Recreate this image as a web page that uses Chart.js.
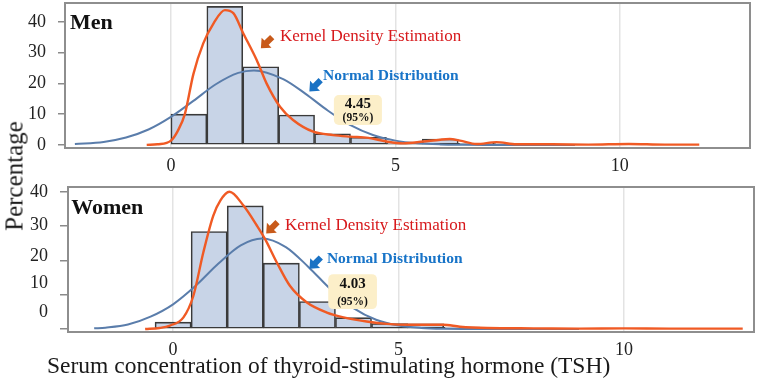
<!DOCTYPE html>
<html>
<head>
<meta charset="utf-8">
<script src="https://cdn.jsdelivr.net/npm/chart.js@4.4.1/dist/chart.umd.min.js"></script>
<style>
  body { margin: 0; background: #fff; }
  #wrap { position: relative; width: 757px; height: 380px; font-family: "Liberation Serif", serif; }
  canvas { position: absolute; left: 0; }
  #menCanvas { top: 0; }
  #womenCanvas { top: 180px; }
  .lbl { position: absolute; color: #1a1a1a; line-height: 1; white-space: nowrap; }
  #ylab { left: 14px; top: 176px; font-size: 25px; transform: translate(-50%, -50%) rotate(-90deg); }
  #xlab { left: 47px; top: 354px; font-size: 23.5px; }
</style>
</head>
<body>
<div id="wrap">
  <canvas id="menCanvas" width="757" height="180"></canvas>
  <canvas id="womenCanvas" width="757" height="200"></canvas>
  <div class="lbl" id="ylab">Percentage</div>
  <div class="lbl" id="xlab">Serum concentration of thyroid-stimulating hormone (TSH)</div>
</div>
<script>
// tick labels
const xTicks = [0, 5, 10];
const yTicks = [0, 10, 20, 30, 40];

// Men: histogram (bin width 0.8), normal fit, kernel density
const menBinCenters = [0.4, 1.2, 2.0, 2.8, 3.6, 4.4, 5.2, 6.0, 6.8, 7.6];
const menPercent = [10, 45, 25.4, 9.7, 3.6, 2.5, 0.7, 1.9, 0.5, 0.4];
const menNormalX = [-2.14, -1.5, -1, -0.5, 0, 0.5, 1, 1.5, 1.85, 2.5, 3, 3.5, 4, 4.5, 5, 5.5, 6, 6.5, 7, 8, 9];
const menNormalY = [0.28, 0.97, 2.4, 5.0, 9.1, 14.3, 19.7, 23.4, 24.2, 21.4, 16.6, 11.1, 6.4, 3.2, 1.4, 0.53, 0.17, 0.05, 0.01, 0, 0];
const menKdeX = [-0.54, -0.3, 0, 0.15, 0.31, 0.5, 0.72, 0.95, 1.2, 1.39, 1.61, 1.91, 2.13, 2.43, 2.72, 3.17, 3.61, 3.99, 4.4, 4.8, 5.17, 5.62, 6.0, 6.21, 6.44, 6.81, 7.25, 7.7, 8.5, 9.3, 10.2, 11.0, 11.77];
const menKdeY = [0, 0.2, 1.4, 4.5, 10, 23, 33, 39.5, 43.8, 42.8, 36.3, 27.6, 20, 12.4, 8.1, 4.3, 3.2, 2.7, 2.3, 1.1, 0.5, 1.1, 1.7, 1.9, 1.4, 0.3, 0.9, 0.2, 0.2, 0.1, 0.3, 0.1, 0.1];
const men95 = '4.45';

// Women
const womenBinCenters = [0, 0.8, 1.6, 2.4, 3.2, 4.0, 4.8, 5.6, 6.4];
const womenPercent = [2, 28.4, 35.9, 19.2, 8.0, 3.3, 1.6, 1.5, 0.6];
const womenNormalX = [-1.75, -1.5, -1, -0.5, 0, 0.5, 1, 1.5, 1.97, 2.5, 3, 3.5, 4, 4.5, 5, 5.5, 6, 7, 8, 9];
const womenNormalY = [0.19, 0.4, 1.3, 3.6, 7.2, 12.6, 19, 24.4, 26.4, 23.9, 18.1, 11.5, 6.1, 2.7, 1.0, 0.31, 0.08, 0, 0, 0];
const womenKdeX = [-0.62, -0.3, -0.07, 0.23, 0.45, 0.67, 0.89, 1.05, 1.25, 1.56, 1.86, 2.04, 2.3, 2.59, 2.96, 3.41, 3.78, 4.29, 4.74, 5.25, 5.99, 6.36, 6.96, 8, 9, 10, 11, 12.63];
const womenKdeY = [0, 0.3, 1.0, 3.4, 9.7, 22.3, 33, 37.5, 40, 36, 30.1, 26.2, 19.4, 12.6, 7.8, 4.8, 3.4, 2.2, 1.5, 1.25, 1.25, 0.67, 0.3, 0.2, 0.1, 0.2, 0.1, 0.1];
const women95 = '4.03';

const serif = 'Liberation Serif';
const pts = (xs, ys) => xs.map((v, i) => ({ x: v, y: ys[i] }));

function arrow(ctx, cx, cy, color) {
  ctx.save();
  ctx.translate(cx, cy);
  ctx.rotate(Math.PI * 0.75); // pointing down-left
  ctx.fillStyle = color;
  ctx.beginPath();
  ctx.moveTo(-8, -3); ctx.lineTo(0, -3); ctx.lineTo(0, -7);
  ctx.lineTo(8, 0);
  ctx.lineTo(0, 7); ctx.lineTo(0, 3); ctx.lineTo(-8, 3);
  ctx.closePath();
  ctx.fill();
  ctx.restore();
}

// frame, panel title, arrows, labels and the 95% box
const notes = {
  id: 'notes',
  afterDatasetsDraw(chart, args, o) {
    const { ctx, chartArea: a, scales: { x, y } } = chart;
    const px = v => x.getPixelForValue(v), py = v => y.getPixelForValue(v);
    ctx.save();
    ctx.strokeStyle = '#8e8e8e';
    ctx.lineWidth = 2;
    ctx.strokeRect(a.left, a.top, a.right - a.left, a.bottom - a.top);

    if (o.yLabelAt) {
      ctx.fillStyle = '#222';
      ctx.font = '18px ' + serif;
      ctx.textAlign = 'right';
      ctx.textBaseline = 'middle';
      o.yLabelAt.forEach((v, i) => ctx.fillText(String(yTicks[i]), a.left - 20, py(v)));
    }

    ctx.textAlign = 'left';
    ctx.textBaseline = 'alphabetic';
    ctx.fillStyle = '#111';
    ctx.font = 'bold 22px ' + serif;
    ctx.fillText(o.title, px(o.titleAt[0]), py(o.titleAt[1]));

    ctx.fillStyle = '#d7191c';
    ctx.font = '17px ' + serif;
    ctx.fillText('Kernel Density Estimation', px(o.kdeAt[0]), py(o.kdeAt[1]));
    ctx.fillStyle = '#1874c8';
    ctx.font = 'bold 15.5px ' + serif;
    ctx.fillText('Normal Distribution', px(o.normAt[0]), py(o.normAt[1]));
    arrow(ctx, px(o.kdeArrow[0]), py(o.kdeArrow[1]), '#c85a1a');
    arrow(ctx, px(o.normArrow[0]), py(o.normArrow[1]), '#1a72c4');

    const b = o.box;
    const l = px(b.x[0]), r = px(b.x[1]), t = py(b.y[0]), btm = py(b.y[1]);
    ctx.fillStyle = '#fcefc9';
    ctx.beginPath();
    ctx.roundRect(l, t, r - l, btm - t, 5);
    ctx.fill();
    ctx.fillStyle = '#111';
    ctx.textAlign = 'center';
    ctx.font = 'bold 15px ' + serif;
    ctx.fillText(b.value, (l + r) / 2, py(b.base[0]));
    ctx.font = 'bold 11.5px ' + serif;
    ctx.fillText('(95%)', (l + r) / 2, py(b.base[1]));
    ctx.restore();
  }
};

function makeChart(id, cfg) {
  return new Chart(document.getElementById(id), {
    type: 'bar',
    data: {
      datasets: [
        {
          type: 'line', data: pts(cfg.kdeX, cfg.kdeY), borderColor: '#f05a24', borderWidth: 2.4,
          pointRadius: 0, cubicInterpolationMode: 'monotone', order: 1
        },
        {
          type: 'line', data: pts(cfg.normX, cfg.normY), borderColor: '#5a7dab', borderWidth: 2,
          pointRadius: 0, cubicInterpolationMode: 'monotone', order: 2
        },
        {
          type: 'bar', data: pts(cfg.bins, cfg.pct), backgroundColor: '#c8d4e7', borderColor: '#3a3a3a',
          borderWidth: 1.6, borderSkipped: false, barPercentage: 1, categoryPercentage: 1, order: 3
        }
      ]
    },
    options: {
      responsive: false,
      animation: false,
      devicePixelRatio: 1,
      layout: { padding: cfg.pad },
      plugins: { legend: { display: false }, tooltip: { enabled: false }, notes: cfg.notes },
      scales: {
        x: {
          type: 'linear', min: cfg.xMin, max: cfg.xMax, offset: false,
          afterBuildTicks: s => { s.ticks = xTicks.map(v => ({ value: v })); },
          afterFit: s => { s.height = cfg.xAxisH; s.paddingLeft = 0; s.paddingRight = 0; },
          grid: { color: '#e3e3e3', lineWidth: 1.5, drawTicks: false, offset: false },
          border: { display: false },
          ticks: { font: { family: serif, size: 18 }, color: '#222', padding: 7, maxRotation: 0 }
        },
        y: {
          type: 'linear', min: cfg.yMin, max: cfg.yMax,
          afterBuildTicks: s => { s.ticks = yTicks.map(v => ({ value: v })); },
          afterFit: s => { s.width = cfg.yAxisW; s.paddingTop = 0; s.paddingBottom = 0; },
          grid: { drawOnChartArea: false, tickLength: cfg.tickLen, color: '#8a8a8a', lineWidth: 1.5 },
          border: { display: false },
          ticks: { display: !cfg.notes.yLabelAt, font: { family: serif, size: 18 }, color: '#222', padding: 12 }
        }
      }
    },
    plugins: [notes]
  });
}

makeChart('menCanvas', {
  bins: menBinCenters, pct: menPercent, normX: menNormalX, normY: menNormalY, kdeX: menKdeX, kdeY: menKdeY,
  xMin: -2.36, xMax: 12.9, yMin: -1, yMax: 46.1,
  pad: { top: 3, right: 7, left: 0, bottom: 0 }, yAxisW: 65, xAxisH: 32, tickLen: 7,
  notes: {
    title: 'Men', titleAt: [-2.25, 37.6],
    kdeAt: [2.43, 33.9], normAt: [3.39, 21.1],
    kdeArrow: [2.13, 33.2], normArrow: [3.21, 19.2],
    box: { x: [3.63, 4.70], y: [16.2, 6.5], base: [12.1, 7.9], value: men95 }
  }
});

makeChart('womenCanvas', {
  bins: womenBinCenters, pct: womenPercent, normX: womenNormalX, normY: womenNormalY, kdeX: womenKdeX, kdeY: womenKdeY,
  xMin: -2.33, xMax: 12.88, yMin: -0.87, yMax: 41.4,
  pad: { top: 7, right: 3, left: 0, bottom: 0 }, yAxisW: 68, xAxisH: 48, tickLen: 8,
  notes: {
    title: 'Women', titleAt: [-2.26, 33.5],
    kdeAt: [2.48, 28.9], normAt: [3.41, 19.2],
    kdeArrow: [2.19, 29.5], normArrow: [3.15, 19.2],
    box: { x: [3.44, 4.52], y: [16.0, 5.8], base: [11.9, 6.9], value: women95 },
    yLabelAt: [5.0, 13.4, 21.3, 30.1, 40]
  }
});
</script>
</body>
</html>
